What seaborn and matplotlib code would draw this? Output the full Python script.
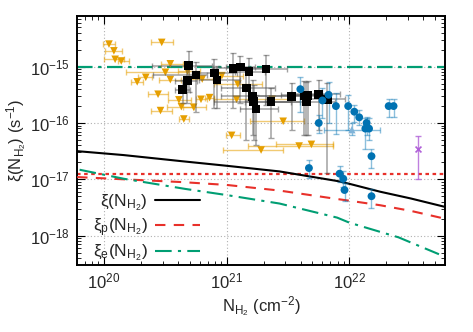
import numpy as np
import pandas as pd
import matplotlib
matplotlib.use("Agg")
import matplotlib.pyplot as plt
import seaborn as sns

# ---------------- data (log10 values) ----------------
# orange triangles: x error bars only
orange_logN = [20.04, 20.47, 20.08, 20.09, 20.14, 20.54, 20.50, 20.68, 20.34, 20.27, 20.54, 20.80, 20.96, 20.44, 20.61,
               20.79, 20.86, 20.46, 20.63, 20.73, 20.65, 21.04, 21.08, 21.09, 21.37, 21.46, 21.28, 21.59, 21.69]
orange_logxi = [-14.60, -14.57, -14.72, -14.87, -14.90, -14.95, -15.10, -15.08, -15.19, -15.27, -15.23, -15.22, -15.16, -15.49, -15.59,
                -15.58, -15.55, -15.78, -15.71, -15.72, -15.93, -16.22, -15.58, -15.31, -15.58, -15.97, -16.48, -16.41, -16.38]
orange_logN_lo = [19.99, 20.38, 20.01, 20.00, 20.11, 20.46, 20.18, 20.60, 20.28, 20.22, 20.45, 20.70, 20.89, 20.36, 20.52,
                  20.75, 20.82, 20.38, 20.51, 20.64, 20.61, 20.99, 20.90, 20.90, 21.21, 21.19, 20.97, 21.17, 21.40]
orange_logN_hi = [20.09, 20.56, 20.15, 20.16, 20.20, 20.64, 20.69, 20.78, 20.39, 20.32, 20.63, 20.89, 21.13, 20.52, 20.71,
                  20.84, 20.90, 20.55, 20.73, 20.83, 20.69, 21.11, 21.23, 21.29, 21.52, 21.63, 21.46, 21.87, 21.87]

# black squares: x and y error bars
black_logN = [20.69, 20.75, 20.68, 20.64, 20.90, 20.92, 21.05, 21.11, 21.18, 21.16, 21.21, 21.22, 21.24, 21.32, 21.36,
              21.53, 21.63, 21.66, 21.65, 21.75, 21.82]
black_logxi = [-14.98, -15.15, -15.25, -15.41, -15.11, -15.24, -15.03, -15.01, -15.09, -15.38, -15.53, -15.62, -15.75, -15.04, -15.62,
               -15.53, -15.51, -15.51, -15.62, -15.49, -15.58]
black_logxi_hi = [-14.73, -14.91, -15.03, -15.24, -14.87, -14.99, -14.76, -14.81, -14.85, -15.06, -15.24, -15.32, -15.50, -14.79, -15.38,
                  -15.29, -15.25, -15.25, -15.27, -15.24, -15.29]
black_logxi_lo = [-15.45, -15.80, -15.65, -15.64, -15.74, -15.73, -15.74, -15.64, -15.59, -16.30, -16.21, -16.30, -16.39, -15.68, -16.26,
                  -16.12, -16.21, -16.21, -16.21, -16.12, -16.88]
black_logN_lo = [20.39, 20.40, 20.58, 20.58, 20.72, 20.77, 20.89, 20.99, 21.07, 20.95, 20.95, 20.90, 21.11, 21.19, 21.15,
                 21.19, 21.44, 21.52, 21.31, 21.52, 21.64]
black_logN_hi = [20.88, 20.84, 20.76, 20.70, 21.08, 21.11, 21.31, 21.23, 21.31, 21.39, 21.60, 21.52, 21.42, 21.49, 21.60,
                 21.80, 21.84, 21.84, 21.88, 21.92, 21.96]

# blue circles: y error bars
blue_logN = [21.60, 21.78, 21.83, 21.89, 21.99, 22.04, 22.08, 22.14, 22.13, 22.16, 22.32, 22.36, 21.75, 22.18, 21.67,
             21.92, 21.95, 21.96, 22.18]
blue_logxi = [-15.40, -15.60, -15.50, -15.70, -15.70, -15.80, -15.90, -16.00, -16.10, -16.10, -15.70, -15.70, -16.00, -16.59, -16.80,
              -16.90, -16.99, -17.19, -17.30]
blue_logxi_hi = [-15.19, -15.38, -15.28, -15.47, -15.50, -15.68, -15.77, -15.89, -15.91, -15.91, -15.57, -15.57, -15.85, -16.46, -16.65,
                 -16.77, -16.86, -17.06, -17.18]
blue_logxi_lo = [-15.80, -15.91, -16.00, -16.20, -16.12, -15.98, -16.03, -16.21, -16.47, -16.30, -15.90, -15.90, -16.18, -16.80, -16.98,
                 -17.04, -17.13, -17.39, -17.51]

# light blue point with x and y error bars
lblue_logN = [22.02]
lblue_logxi = [-16.12]
lblue_logN_lo = [21.79]
lblue_logN_hi = [22.25]
lblue_logxi_hi = [-16.00]
lblue_logxi_lo = [-16.21]

# purple point
purple_logN = [22.56]
purple_logxi = [-16.46]
purple_logxi_hi = [-16.23]
purple_logxi_lo = [-16.99]

# model curves
model_logN = [19.78, 20.16, 20.64, 21.0, 21.43, 21.9, 22.0, 22.25, 22.5, 22.78]
xi_total = [-16.50, -16.57, -16.68, -16.76, -16.86, -17.03, -17.08, -17.22, -17.34, -17.49]
xi_p = [-16.96, -17.00, -17.05, -17.10, -17.20, -17.35, -17.38, -17.46, -17.56, -17.70]
xi_e_logN = [19.80, 20.16, 20.66, 21.0, 21.43, 21.9, 22.0, 22.4, 22.73]
xi_e = [-16.83, -16.99, -17.17, -17.28, -17.43, -17.68, -17.77, -18.03, -18.33]

hline_green = 1.0e-15
hline_red = 1.25e-17

x_ticks = [1e20, 1e21, 1e22]
y_ticks = [1e-18, 1e-17, 1e-16, 1e-15]

legend_labels = ["ξ(N$_{\\mathrm{H_2}}$)", "ξ$_\\mathrm{p}$(N$_{\\mathrm{H_2}}$)", "ξ$_\\mathrm{e}$(N$_{\\mathrm{H_2}}$)"]
xlabel = "N$_{\\mathrm{H_2}}$ (cm$^{-2}$)"
ylabel = "ξ(N$_{\\mathrm{H_2}}$) (s$^{-1}$)"

# ---------------- style ----------------
sns.set_style("ticks")
plt.rcParams['font.family'] = ['Liberation Sans', 'DejaVu Sans']
plt.rcParams['mathtext.fontset'] = 'custom'
plt.rcParams['mathtext.rm'] = 'Liberation Sans'
plt.rcParams['mathtext.it'] = 'Liberation Sans:italic'
plt.rcParams['mathtext.default'] = 'regular'
plt.rcParams['font.size'] = 12

ORANGE = '#E69F00'
BLUE = '#0072B2'
GREEN = '#009E73'
RED = '#E8302A'
PURPLE = '#B060D8'

fig = plt.figure(figsize=(4.73, 3.32), dpi=100)
ax = fig.add_axes([0.163, 0.202, 0.778, 0.750])
ax.set_xscale('log')
ax.set_yscale('log')

p = lambda a: 10.0 ** np.asarray(a, dtype=float)

# horizontal reference lines
ax.axhline(hline_green, color=GREEN, lw=1.6, dashes=(7, 2.5, 1.5, 2.5), zorder=2)
ax.axhline(hline_red, color=RED, lw=1.6, dashes=(1.6, 1.6), zorder=2)

# models
dfm = pd.DataFrame({'N': p(model_logN), 'tot': p(xi_total), 'p': p(xi_p)})
dfe = pd.DataFrame({'N': p(xi_e_logN), 'e': p(xi_e)})
sns.lineplot(data=dfm, x='N', y='tot', ax=ax, color='black', lw=1.5, label=legend_labels[0], zorder=3)
sns.lineplot(data=dfm, x='N', y='p', ax=ax, color=RED, lw=1.5, label=legend_labels[1], zorder=3)
sns.lineplot(data=dfe, x='N', y='e', ax=ax, color=GREEN, lw=1.5, label=legend_labels[2], zorder=3)
ax.lines[-2].set_dashes((5, 4))
ax.lines[-1].set_dashes((8, 3, 1.5, 3))

# orange triangles
oN, oX = p(orange_logN), p(orange_logxi)
ax.errorbar(oN, oX, xerr=[oN - p(orange_logN_lo), p(orange_logN_hi) - oN], fmt='none',
            ecolor=ORANGE, alpha=0.55, elinewidth=1.0, capsize=2, zorder=4)
sns.scatterplot(x=oN, y=oX, ax=ax, marker='v', color=ORANGE, s=30, edgecolor='none', zorder=5)

# black squares
bN, bX = p(black_logN), p(black_logxi)
ax.errorbar(bN, bX, xerr=[bN - p(black_logN_lo), p(black_logN_hi) - bN],
            yerr=[bX - p(black_logxi_lo), p(black_logxi_hi) - bX], fmt='none',
            ecolor='#555555', alpha=0.55, elinewidth=1.1, capsize=2, zorder=6)
sns.scatterplot(x=bN, y=bX, ax=ax, marker='s', color='black', s=38, edgecolor='none', zorder=7)

# blue circles
cN, cX = p(blue_logN), p(blue_logxi)
ax.errorbar(cN, cX, yerr=[cX - p(blue_logxi_lo), p(blue_logxi_hi) - cX], fmt='none',
            ecolor=BLUE, alpha=0.45, elinewidth=1.0, capsize=2, zorder=6)
sns.scatterplot(x=cN, y=cX, ax=ax, marker='o', color=BLUE, s=32, edgecolor='none', zorder=7)

lN, lX = p(lblue_logN), p(lblue_logxi)
ax.errorbar(lN, lX, xerr=[lN - p(lblue_logN_lo), p(lblue_logN_hi) - lN],
            yerr=[lX - p(lblue_logxi_lo), p(lblue_logxi_hi) - lX], fmt='none',
            ecolor=BLUE, alpha=0.45, elinewidth=1.0, capsize=2, zorder=6)
sns.scatterplot(x=lN, y=lX, ax=ax, marker='^', color='#7FB3D8', s=28, edgecolor='none', zorder=7)

# purple
uN, uX = p(purple_logN), p(purple_logxi)
ax.errorbar(uN, uX, yerr=[uX - p(purple_logxi_lo), p(purple_logxi_hi) - uX], fmt='none',
            ecolor=PURPLE, alpha=0.8, elinewidth=1.0, capsize=2.5, zorder=6)
sns.scatterplot(x=uN, y=uX, ax=ax, marker='x', color=PURPLE, s=18, linewidth=1.2, zorder=7)

# axes
ax.set_xlim(10 ** 19.78, 10 ** 22.78)
ax.set_ylim(10 ** -18.52, 10 ** -14.1)
ax.set_xlabel(xlabel, fontsize=12, labelpad=2)
ax.set_ylabel(ylabel, fontsize=12, labelpad=1)

ax.xaxis.set_major_locator(matplotlib.ticker.FixedLocator(x_ticks))
ax.yaxis.set_major_locator(matplotlib.ticker.FixedLocator(y_ticks))
ax.xaxis.set_major_formatter(matplotlib.ticker.LogFormatterSciNotation())
ax.yaxis.set_major_formatter(matplotlib.ticker.LogFormatterSciNotation())
ax.xaxis.set_minor_locator(matplotlib.ticker.LogLocator(base=10, subs=np.arange(2, 10), numticks=20))
ax.yaxis.set_minor_locator(matplotlib.ticker.LogLocator(base=10, subs=np.arange(2, 10), numticks=20))
ax.xaxis.set_minor_formatter(matplotlib.ticker.NullFormatter())
ax.yaxis.set_minor_formatter(matplotlib.ticker.NullFormatter())

ax.grid(True, which='major', color='#b0b0b0', ls=(0, (1, 2)), lw=0.8)
ax.grid(False, which='minor')
ax.tick_params(which='both', direction='in', top=True, right=True, color='black')
ax.tick_params(which='major', length=6, width=0.8, labelsize=12, pad=5)
ax.tick_params(which='minor', length=3, width=0.6)
for s in ax.spines.values():
    s.set_linewidth(1.4)
    s.set_color('black')

leg = ax.legend(loc='lower left', bbox_to_anchor=(0.015, -0.035), frameon=False, markerfirst=False,
                handlelength=2.6, handletextpad=0.4, labelspacing=0.2, fontsize=12.5, borderaxespad=0.2)

fig.savefig('out.png', dpi=100)
